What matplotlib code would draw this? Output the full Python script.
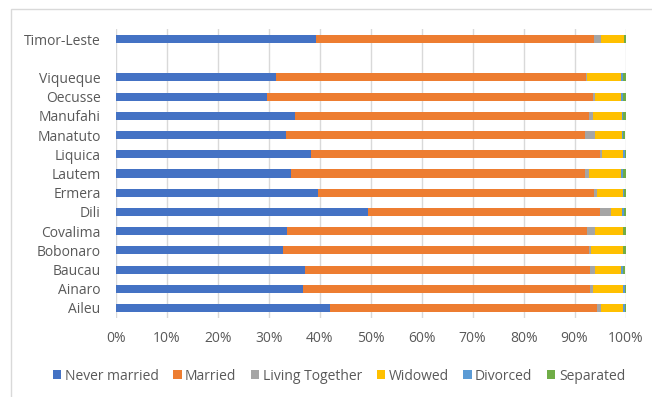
import numpy as np
import matplotlib.pyplot as plt
from matplotlib.patches import Rectangle

# share of population by marital status (%), listed top to bottom
regioes = ['Timor-Leste', '', 'Viqueque', 'Oecusse', 'Manufahi', 'Manatuto', 'Liquica',
           'Lautem', 'Ermera', 'Dili', 'Covalima', 'Bobonaro', 'Baucau', 'Ainaro', 'Aileu']
never_married = [39.2, 0, 31.4, 29.7, 35.1, 33.3, 38.2, 34.3, 39.6, 49.5, 33.5, 32.7, 37.0, 36.7, 42.0]
married       = [54.6, 0, 60.9, 64.0, 57.8, 58.7, 56.7, 57.7, 54.3, 45.4, 59.0, 60.2, 56.1, 56.4, 52.4]
living_tog    = [1.3, 0, 0.2, 0.4, 0.7, 2.1, 0.5, 0.8, 0.5, 2.3, 1.6, 0.4, 1.0, 0.5, 0.8]
widowed       = [4.6, 0, 6.7, 5.1, 5.8, 5.3, 4.1, 6.4, 5.1, 2.2, 5.4, 6.2, 5.1, 5.9, 4.3]
divorced      = [0.1, 0, 0.3, 0.3, 0.1, 0.1, 0.4, 0.3, 0.3, 0.4, 0.1, 0.1, 0.3, 0.4, 0.4]
separated     = [0.2, 0, 0.5, 0.5, 0.5, 0.5, 0.1, 0.5, 0.2, 0.2, 0.4, 0.4, 0.5, 0.1, 0.1]

series = ['Never married', 'Married', 'Living Together', 'Widowed', 'Divorced', 'Separated']
cores = ['#4472C4', '#ED7D31', '#A5A5A5', '#FFC000', '#5B9BD5', '#70AD47']
dados = [never_married, married, living_tog, widowed, divorced, separated]

plt.rcParams['font.family'] = ['Open Sans', 'DejaVu Sans']
cinza = '#595959'

fig = plt.figure(figsize=(6.52, 3.97), dpi=100)
ax = fig.add_axes([116 / 652, 1 - 317.6 / 397, 509.5 / 652, 288.2 / 397])

# outer frame of the chart area
fig.patches.append(Rectangle((10.5 / 652, -0.1), 1.2, 1.1 - 9.5 / 397, transform=fig.transFigure,
                             fill=False, edgecolor='#d9d9d9', linewidth=1.0))

y = np.arange(len(regioes))[::-1]
esq = np.zeros(len(regioes))
for nome, vals, cor in zip(series, dados, cores):
    vals = np.array(vals)
    ax.barh(y, vals, left=esq, height=0.42, color=cor, label=nome)
    esq += vals

ax.set_xlim(0, 100)
ax.set_ylim(-0.5, len(regioes) - 0.5)
ax.set_xticks(np.arange(0, 101, 10))
ax.set_xticklabels([f'{v}%' for v in range(0, 101, 10)])
ax.set_yticks(y)
ax.set_yticklabels(regioes)
ax.tick_params(length=0, colors=cinza, labelsize=10)
ax.tick_params(axis='x', pad=10)
ax.tick_params(axis='y', pad=11)
ax.grid(axis='x', color='#d9d9d9', linewidth=1)
ax.set_axisbelow(True)
for s in ax.spines.values():
    s.set_visible(False)

leg = fig.legend(loc='center', bbox_to_anchor=(339 / 652, 1 - 376 / 397), ncol=6, frameon=False,
                 fontsize=10, handlelength=0.6, handleheight=0.6, handletextpad=0.25,
                 columnspacing=1.05, labelcolor=cinza)

fig.savefig('out.png', dpi=100)
